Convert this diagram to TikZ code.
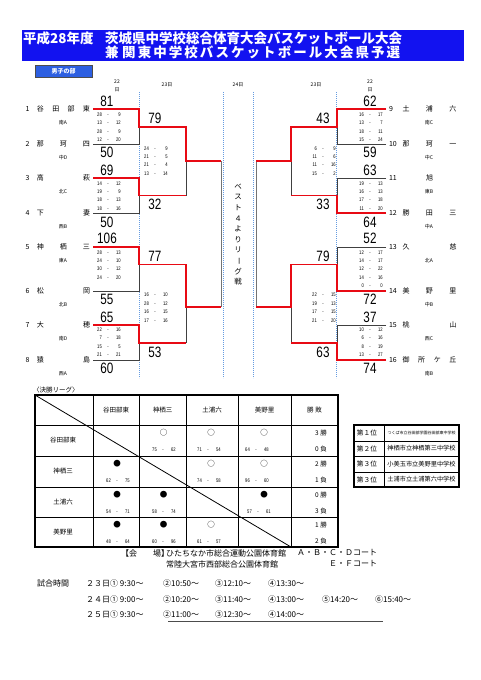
\documentclass[tikz,border=0pt]{standalone}
\usepackage{fontspec}
\setmainfont{Noto Sans CJK JP}
\newfontfamily\numfont{Liberation Sans}[FakeStretch=0.78]
\usetikzlibrary{positioning,calc}
\definecolor{hdrblue}{RGB}{18,18,240}
\definecolor{tabblue}{RGB}{45,95,225}
\definecolor{winred}{RGB}{232,10,20}
\definecolor{dotblue}{RGB}{100,155,225}
\makeatletter
\def\spr@#1#2{#1\ifx\relax#2\else\hfill\expandafter\spr@\expandafter#2\fi}
\newcommand{\spreadname}[2]{\makebox[#1][s]{\expandafter\spr@#2\relax}}
\makeatother
\newcommand{\fsz}[1]{\fontsize{#1}{#1}\selectfont}
\newcommand{\qscore}[2]{\llap{#1\kern5.5pt}-\rlap{\makebox[12pt][r]{#2}}}
\tikzset{
    hdr/.style={anchor=west,inner sep=0pt,text=white,font=\fsz{13.5}\bfseries},
    team/.style={inner sep=0pt,outer xsep=3pt,font=\fsz{7}},
    sub/.style={inner sep=0pt,font=\fsz{5}},
    day/.style={inner sep=0pt,align=center,font=\fontsize{5}{7.5}\selectfont},
    big/.style={inner sep=0pt,font=\numfont\fsz{15}},
    qtr/.style={inner sep=0pt,font=\numfont\fsz{5.3}},
    vtxt/.style={inner sep=0pt,font=\fsz{7.5}},
    win/.style={draw=winred,line width=1.4pt},
    lose/.style={draw=black!75,line width=0.7pt},
    semi/.style={draw=black!55,line width=0.8pt},
    col/.style={draw=dotblue,line width=0.6pt,dash pattern=on 0.8pt off 1.2pt},
    tabline/.style={draw=black,line width=0.8pt},
    cell/.style={inner sep=0pt,font=\fsz{6.5}},
    sym/.style={inner sep=0pt,font=\fsz{7.5}},
    rank/.style={inner sep=0pt,font=\fsz{6.7}},
    school/.style={inner sep=0pt,font=\fsz{6.2}},
    info/.style={anchor=west,inner sep=0pt,font=\fsz{8}},
}

\begin{document}
\begin{tikzpicture}[x=1pt,y=-1pt]
\useasboundingbox (0,0) rectangle (481,680);
\fill[white] (0,0) rectangle (481,680);

\fill[hdrblue] (22,30) rectangle (464,61);
\node[hdr] (h1) at (23,38.5) {平成28年度};
\node[hdr] (h2) at (105,38.5) {茨城県中学校総合体育大会バスケットボール大会};
\node[hdr] (h3) at (105,52.5) {兼};
\node[hdr] (h4) at (122,52.5) {\spreadname{278pt}{関東中学校バスケットボール大会県予選}};
\node[draw=black!70,fill=tabblue,text=white,minimum width=57pt,minimum height=12pt,inner sep=0pt,font=\fsz{6}\bfseries] (boys) at (63.5,71) {男子の部};

\node[day] (d1) at (117,86) {22\\日};
\node[day] (d2) at (167,85) {23日};
\node[day] (d3) at (238,85) {24日};
\node[day] (d4) at (316,85) {23日};
\node[day] (d5) at (370,86) {22\\日};

\foreach \x in {139,223,253,336}
  \draw[col] (\x,92) -- (\x,378);

\foreach \n/\y/\nm/\sb in {1/109/谷田部東/南A,2/144/那珂四/中D,3/178/高萩/北C,4/213/下妻/西B,5/247/神栖三/東A,6/291/松岡/北B,7/325/大穂/南D,8/360/猿島/西A}{
  \node[team,anchor=east] (t\n) at (93,\y) {\makebox[11.5pt][l]{\n}\spreadname{53pt}{\nm}};
  \node[sub] (s\n) at (63,\y+13.5) {\sb};
}
\foreach \n/\y/\nm/\sb in {9/109/土浦六/南C,10/144/那珂一/中C,11/178/{\hfil 旭\hfil}/東B,12/213/勝田三/中A,13/247/久慈/北A,14/291/美野里/中B,15/325/桃山/西C,16/360/御所ケ丘/南B}{
  \node[team,anchor=west] (t\n) at (386,\y) {\makebox[13.5pt][l]{\n}\spreadname{54pt}{\nm}};
  \node[sub] (s\n) at (429,\y+13.5) {\sb};
}

\coordinate (a1) at (139,127);
\coordinate (a2) at (139,195.5);
\coordinate (a3) at (139,264.5);
\coordinate (a4) at (139,343);
\coordinate (b1) at (186,161);
\coordinate (b2) at (186,307);
\coordinate (c1) at (221,161);
\coordinate (c2) at (221,307);
\coordinate (a5) at (337,127);
\coordinate (a6) at (337,195.5);
\coordinate (a7) at (337,264.5);
\coordinate (a8) at (337,343);
\coordinate (b3) at (291,161);
\coordinate (b4) at (291,307);
\coordinate (c3) at (256,161);
\coordinate (c4) at (256,307);

\draw[lose] (t2.east) -| (a1);
\draw[lose] (t4.east) -| (a2);
\draw[lose] (t6.east) -| (a3);
\draw[lose] (t8.east) -| (a4);
\draw[lose] (a2 -| b1) -- (b1);
\draw[lose] (a4 -| b2) -- (b2);
\draw[lose] (t10.west) -| (a5);
\draw[lose] (t11.west) -| (a6);
\draw[lose] (t13.west) -| (a7);
\draw[lose] (t15.west) -| (a8);
\draw[lose] (a6 -| b3) -- (b3);
\draw[lose] (a8 -| b4) -- (b4);
\draw[semi] (c1) -- (c2);
\draw[semi] (c3) -- (c4);

\draw[win] (t1.east) -| (a1) -- (a1 -| b1) -- (b1) -- (c1);
\draw[win] (t3.east) -| (a2) -- (a2 -| b1);
\draw[win] (t5.east) -| (a3) -- (a3 -| b2) -- (b2) -- (c2);
\draw[win] (t7.east) -| (a4) -- (a4 -| b2);
\draw[win] (t9.west) -| (a5) -- (a5 -| b3) -- (b3) -- (c3);
\draw[win] (t12.west) -| (a6) -- (a6 -| b3);
\draw[win] (t14.west) -| (a7) -- (a7 -| b4) -- (b4) -- (c4);
\draw[win] (t16.west) -| (a8) -- (a8 -| b4);

\foreach \x/\y/\v [count=\i] in {107/101/81,107/152/50,107/170/69,107/222/50,107/238/106,107/299/55,107/317/65,107/368/60,
    155/118/79,155/204/32,155/256/77,155/352/53,
    370/101/62,370/152/59,370/170/63,370/222/64,370/238/52,370/299/72,370/317/37,370/368/74,
    323/118/43,323/204/33,323/256/79,323/352/63}
  \node[big] (sc\i) at (\x,\y) {\v};

\foreach \x/\y/\sa/\sb [count=\i] in {108/114.3/28/9,108/122.7/13/12,108/131.7/28/9,108/140/12/20,
    108/183.3/14/12,108/191.7/19/9,108/200/18/13,108/208.3/18/16,
    108/252.3/28/13,108/260.7/24/10,108/269/30/12,108/277.3/24/20,
    108/329.3/22/16,108/337.7/7/18,108/346.7/15/5,108/355/21/21,
    370/114.3/16/17,370/122.7/13/7,370/131.7/18/11,370/140/15/24,
    370/183.3/19/13,370/191.7/16/13,370/200/17/18,370/208.3/11/20,
    370/252.3/12/17,370/260.7/14/17,370/269/12/22,370/277.3/14/16,370/286/0/0,
    370/329.3/10/12,370/337.7/6/16,370/346.7/8/19,370/355/13/27,
    155/148.3/24/9,155/156.7/21/5,155/165/21/4,155/174/13/14,
    155/295/16/10,155/303.3/28/12,155/311.7/16/15,155/320.7/17/16,
    323/148.3/6/9,323/156.7/11/6,323/165/11/16,323/174/15/2,
    323/295/22/15,323/303.3/19/13,323/311.7/17/15,323/320.7/21/20}
  \node[qtr] (q\i) at (\x,\y) {\qscore{\sa}{\sb}};

\foreach \ch [count=\i] in {ベ,ス,ト,４,よ,り,リ,{\rotatebox{-90}{ー}},グ,戦}
  \node[vtxt] (v\i) at (238,176+10.6*\i) {\ch};

\node[anchor=west,inner sep=0pt,font=\fsz{6.5}] (lg) at (33,390) {〈決勝リーグ〉};
\draw[tabline,line width=1.1pt] (35,395) rectangle (338,547);
\foreach \x in {93,139,186,238,291}
  \draw[tabline] (\x,395) -- (\x,547);
\foreach \y in {425,456,487,517}
  \draw[tabline] (35,\y) -- (338,\y);
\draw[tabline] (35,395) -- (291,547);

\foreach \x/\t [count=\i] in {116/谷田部東,162.5/神栖三,212/土浦六,264.5/美野里,314.5/勝\hspace{2pt}敗}
  \node[cell] (hd\i) at (\x,410) {\t};
\foreach \y/\t [count=\i] in {440.5/谷田部東,471.5/神栖三,502/土浦六,532/美野里}
  \node[cell] (rw\i) at (63,\y) {\t};

\foreach \r/\cx/\dx/\s/\sa/\sb [count=\i] in {425/163.5/163/○/75/62,425/211/208/○/71/54,425/264/256/○/64/48,
    456/117/117/●/62/75,456/211/208/○/74/58,456/264/256/○/96/60,
    487/117/117/●/54/71,487/163.5/163/●/58/74,487/264/258/●/57/61,
    517/117/117/●/48/64,517/163.5/163/●/60/96,517/211/208/○/61/57}{
  \node[sym] (o\i) at (\cx,\r+8) {\s};
  \node[qtr] (g\i) at (\dx,\r+24.5) {\qscore{\sa}{\sb}};
}
\foreach \r/\w/\l [count=\i] in {425/3/0,456/2/1,487/0/3,517/1/2}{
  \node[cell] (w\i) at (321,\r+8) {\w\ 勝};
  \node[cell] (l\i) at (321,\r+24.5) {\l\ 負};
}

\draw[tabline,line width=1.2pt] (354,425) rectangle (459,487);
\foreach \y in {441,456,472}
  \draw[tabline] (354,\y) -- (459,\y);
\draw[tabline] (384,425) -- (384,487);
\foreach \y/\rk/\sn [count=\i] in {433/１/{\fsz{4}つくば市立谷田部学園谷田部東中学校},448.5/２/神栖市立神栖第三中学校,464/３/小美玉市立美野里中学校,479.5/３/土浦市立土浦第六中学校}{
  \node[rank] (rk\i) at (367,\y) {第\rk 位};
  \node[school] (pl\i) at (421.5,\y) {\sn};
}

\node[info] (ven1) at (121,553) {【会　　場】};
\node[info] (ven2) at (166,553) {ひたちなか市総合運動公園体育館};
\node[info] (ven3) at (297,553) {Ａ・Ｂ・Ｃ・Ｄコート};
\node[info] (ven4) at (166,564) {常陸大宮市西部総合公園体育館};
\node[info] (ven5) at (329,564) {Ｅ・Ｆコート};

\node[info] (tm) at (37,583) {試合時間};
\foreach \y/\da/\ha/\hb/\hc/\hd [count=\i] in {583/３/9:30/10:50/12:10/13:30,599/４/9:00/10:20/11:40/13:00,614/５/9:30/11:00/12:30/14:00}{
  \node[info] (ta\i) at (86,\y) {２\da 日① \ha～};
  \node[info] (tb\i) at (163,\y) {②\hb～};
  \node[info] (tc\i) at (215,\y) {③\hc～};
  \node[info] (td\i) at (268,\y) {④\hd～};
}
\node[info] (te2) at (322,599) {⑤14:20～};
\node[info] (tf2) at (375,599) {⑥15:40～};
\draw[black!70,line width=0.6pt] (168,621) -- (383,621);
\end{tikzpicture}
\end{document}
